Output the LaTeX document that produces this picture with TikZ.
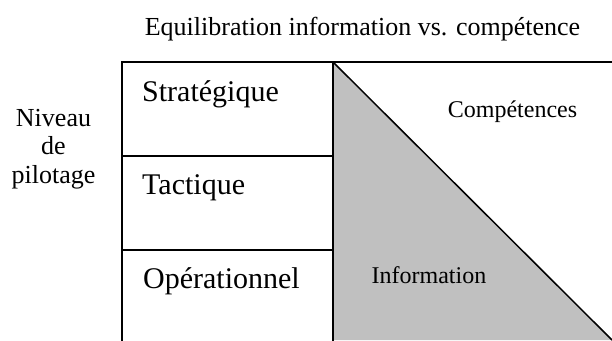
\documentclass[tikz,border=0pt]{standalone}
\usepackage{fontspec}
\setmainfont{Liberation Serif}
\definecolor{infogray}{HTML}{C0C0C0}
\begin{document}
\begin{tikzpicture}[x=1pt,y=-1pt,
  frame/.style={line width=1.5pt,line cap=rect},
  titletext/.style={inner sep=0pt,anchor=base,font=\fontsize{26}{28}\selectfont},
  leveltext/.style={inner sep=0pt,anchor=base west,font=\fontsize{30}{32}\selectfont},
  sidetext/.style={inner sep=0pt,anchor=base,align=center,font=\fontsize{26}{28.5}\selectfont},
  areatext/.style={inner sep=0pt,anchor=base,font=\fontsize{24}{26}\selectfont}]
\useasboundingbox (0,0) rectangle (612,340);
% corner coordinates
\coordinate (tl) at (122,62);
\coordinate (apex) at (333,62);
\coordinate (tr) at (612,62);
\coordinate (bl) at (122,340);
\coordinate (bm) at (333,340);
\coordinate (br) at (612,340);
\coordinate (d1l) at (122,156);
\coordinate (d1r) at (333,156);
\coordinate (d2l) at (122,250);
\coordinate (d2r) at (333,250);
% shaded triangle
\fill[infogray] (apex) -- (br) -- (bm) -- cycle;
% frame lines
\draw[frame] (tl) -- (tr);
\draw[frame] (tl) -- (bl);
\draw[frame] (apex) -- (bm);
\draw[frame] (d1l) -- (d1r);
\draw[frame] (d2l) -- (d2r);
\draw[frame,line cap=butt] (apex) -- (br);
% texts
\node[titletext] (title) at (362.5,35) {Equilibration information vs. compétence};
\node[sidetext] (niveau) at (53.5,183) {Niveau\\de\\pilotage};
\node[leveltext] (strat) at (142,101) {Stratégique};
\node[leveltext] (tact) at (142,194) {Tactique};
\node[leveltext] (oper) at (143,288) {Opérationnel};
\node[areatext] (comp) at (512.5,117) {Compétences};
\node[areatext] (info) at (429,283) {Information};
\end{tikzpicture}
\end{document}
